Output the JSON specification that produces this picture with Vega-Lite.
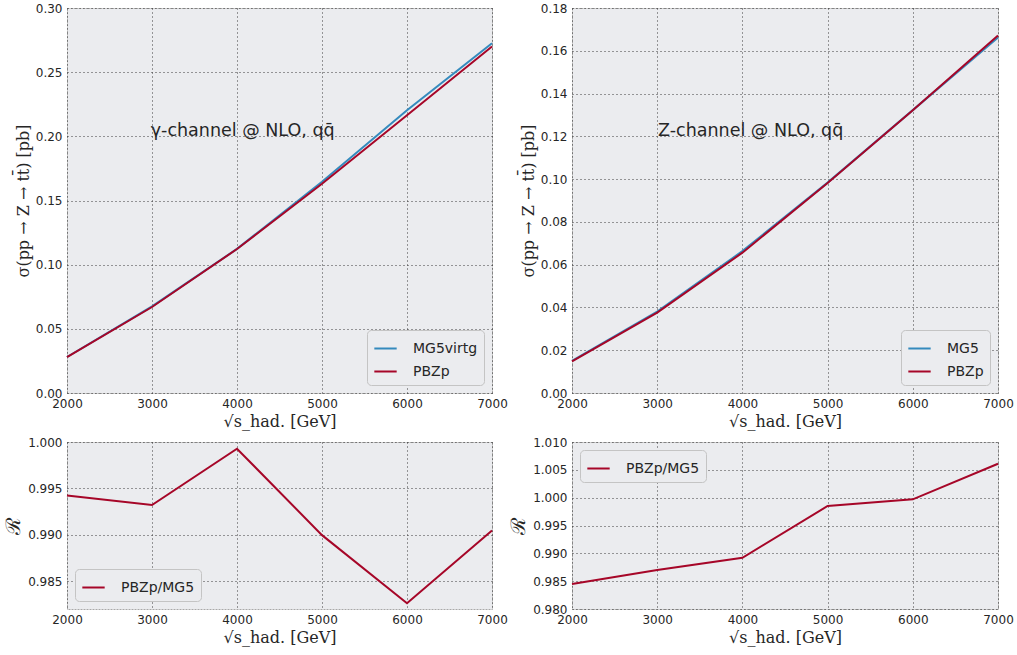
{
  "$schema": "https://vega.github.io/schema/vega-lite/v6.json",
  "padding": {"left": 3, "top": 1, "right": 5, "bottom": 5},
  "background": "white",
  "config": {
    "font": "DejaVu Sans",
    "view": {"fill": "#ebecef", "stroke": "#a8a8a8", "strokeDash": [2, 1], "strokeWidth": 1},
    "axis": {
      "grid": true, "gridColor": "#3a3a3a", "gridDash": [1, 3], "gridWidth": 1,
      "domain": false, "ticks": false, "labelPadding": 5,
      "labelFont": "DejaVu Sans", "labelFontSize": 12, "labelColor": "#262626",
      "titleFont": "DejaVu Serif", "titleFontWeight": "normal", "titleFontSize": 16, "titleColor": "#262626", "titlePadding": 4
    },
    "legend": {
      "title": null, "fillColor": "#ebecef", "strokeColor": "#c4c4c4", "cornerRadius": 4,
      "padding": 6, "offset": 8, "symbolType": "stroke", "symbolSize": 500, "symbolStrokeWidth": 2,
      "labelFont": "DejaVu Sans", "labelFontSize": 14, "labelColor": "#262626", "labelOffset": 15, "rowPadding": 3
    }
  },
  "datasets": {
    "gamma": [
      {"E": 2000, "series": "MG5virtg", "sigma": 0.02806},
      {"E": 3000, "series": "MG5virtg", "sigma": 0.06746},
      {"E": 4000, "series": "MG5virtg", "sigma": 0.11229},
      {"E": 5000, "series": "MG5virtg", "sigma": 0.16466},
      {"E": 6000, "series": "MG5virtg", "sigma": 0.22036},
      {"E": 7000, "series": "MG5virtg", "sigma": 0.27259},
      {"E": 2000, "series": "PBZp", "sigma": 0.0279},
      {"E": 3000, "series": "PBZp", "sigma": 0.0670},
      {"E": 4000, "series": "PBZp", "sigma": 0.1122},
      {"E": 5000, "series": "PBZp", "sigma": 0.1630},
      {"E": 6000, "series": "PBZp", "sigma": 0.2165},
      {"E": 7000, "series": "PBZp", "sigma": 0.2700}
    ],
    "zch": [
      {"E": 2000, "series": "MG5", "sigma": 0.01503},
      {"E": 3000, "series": "MG5", "sigma": 0.03809},
      {"E": 4000, "series": "MG5", "sigma": 0.06632},
      {"E": 5000, "series": "MG5", "sigma": 0.09836},
      {"E": 6000, "series": "MG5", "sigma": 0.13225},
      {"E": 7000, "series": "MG5", "sigma": 0.16619},
      {"E": 2000, "series": "PBZp", "sigma": 0.0148},
      {"E": 3000, "series": "PBZp", "sigma": 0.0376},
      {"E": 4000, "series": "PBZp", "sigma": 0.0656},
      {"E": 5000, "series": "PBZp", "sigma": 0.0982},
      {"E": 6000, "series": "PBZp", "sigma": 0.1322},
      {"E": 7000, "series": "PBZp", "sigma": 0.1672}
    ],
    "ratio_gamma": [
      {"E": 2000, "series": "PBZp/MG5", "R": 0.99423},
      {"E": 3000, "series": "PBZp/MG5", "R": 0.9932},
      {"E": 4000, "series": "PBZp/MG5", "R": 0.99928},
      {"E": 5000, "series": "PBZp/MG5", "R": 0.98996},
      {"E": 6000, "series": "PBZp/MG5", "R": 0.98262},
      {"E": 7000, "series": "PBZp/MG5", "R": 0.99047}
    ],
    "ratio_z": [
      {"E": 2000, "series": "PBZp/MG5", "R": 0.9845},
      {"E": 3000, "series": "PBZp/MG5", "R": 0.9870},
      {"E": 4000, "series": "PBZp/MG5", "R": 0.9892},
      {"E": 5000, "series": "PBZp/MG5", "R": 0.9985},
      {"E": 6000, "series": "PBZp/MG5", "R": 0.9997},
      {"E": 7000, "series": "PBZp/MG5", "R": 1.0061}
    ],
    "notes": [
      {"panel": "gamma", "E": 2985, "sigma": 0.204, "label": "γ-channel @ NLO, qq̄"},
      {"panel": "z", "E": 3010, "sigma": 0.1225, "label": "Z-channel @ NLO, qq̄"}
    ]
  },
  "columns": 2,
  "spacing": {"row": 49, "column": 80},
  "bounds": "flush",
  "resolve": {
    "scale": {"color": "independent", "x": "independent", "y": "independent"},
    "legend": {"color": "independent"}
  },
  "concat": [
    {
      "width": 425, "height": 385,
      "layer": [
        {
          "data": {"name": "gamma"},
          "mark": {"type": "line", "strokeWidth": 2},
          "encoding": {
            "x": {"field": "E", "type": "quantitative", "scale": {"domain": [2000, 7000], "nice": false, "zero": false},
                  "axis": {"values": [2000, 3000, 4000, 5000, 6000, 7000], "format": "d", "title": "√s_had. [GeV]", "labelFlush": false}},
            "y": {"field": "sigma", "type": "quantitative", "scale": {"domain": [0, 0.3], "nice": false},
                  "axis": {"values": [0, 0.05, 0.1, 0.15, 0.2, 0.25, 0.3], "format": ".2f", "title": "σ(pp → Z → tt̄) [pb]"}},
            "color": {"field": "series", "type": "nominal",
                      "scale": {"domain": ["MG5virtg", "PBZp"], "range": ["#348ABD", "#A60628"]},
                      "legend": {"orient": "bottom-right"}}
          }
        },
        {
          "data": {"name": "notes"},
          "transform": [{"filter": "datum.panel === 'gamma'"}],
          "mark": {"type": "text", "align": "left", "baseline": "middle", "fontSize": 17.5, "font": "DejaVu Sans", "color": "#262626"},
          "encoding": {
            "x": {"field": "E", "type": "quantitative"},
            "y": {"field": "sigma", "type": "quantitative"},
            "text": {"field": "label"}
          }
        }
      ]
    },
    {
      "width": 426, "height": 385,
      "layer": [
        {
          "data": {"name": "zch"},
          "mark": {"type": "line", "strokeWidth": 2},
          "encoding": {
            "x": {"field": "E", "type": "quantitative", "scale": {"domain": [2000, 7000], "nice": false, "zero": false},
                  "axis": {"values": [2000, 3000, 4000, 5000, 6000, 7000], "format": "d", "title": "√s_had. [GeV]", "labelFlush": false}},
            "y": {"field": "sigma", "type": "quantitative", "scale": {"domain": [0, 0.18], "nice": false},
                  "axis": {"values": [0, 0.02, 0.04, 0.06, 0.08, 0.1, 0.12, 0.14, 0.16, 0.18], "format": ".2f", "title": "σ(pp → Z → tt̄) [pb]"}},
            "color": {"field": "series", "type": "nominal",
                      "scale": {"domain": ["MG5", "PBZp"], "range": ["#348ABD", "#A60628"]},
                      "legend": {"orient": "bottom-right"}}
          }
        },
        {
          "data": {"name": "notes"},
          "transform": [{"filter": "datum.panel === 'z'"}],
          "mark": {"type": "text", "align": "left", "baseline": "middle", "fontSize": 17.5, "font": "DejaVu Sans", "color": "#262626"},
          "encoding": {
            "x": {"field": "E", "type": "quantitative"},
            "y": {"field": "sigma", "type": "quantitative"},
            "text": {"field": "label"}
          }
        }
      ]
    },
    {
      "width": 425, "height": 167,
      "data": {"name": "ratio_gamma"},
      "mark": {"type": "line", "strokeWidth": 2},
      "encoding": {
        "x": {"field": "E", "type": "quantitative", "scale": {"domain": [2000, 7000], "nice": false, "zero": false},
              "axis": {"values": [2000, 3000, 4000, 5000, 6000, 7000], "format": "d", "title": "√s_had. [GeV]", "labelFlush": false}},
        "y": {"field": "R", "type": "quantitative", "scale": {"domain": [0.982, 1.0], "nice": false, "zero": false},
              "axis": {"values": [0.985, 0.99, 0.995, 1.0], "format": ".3f", "title": "ℛ", "titleFontSize": 20}},
        "color": {"field": "series", "type": "nominal",
                  "scale": {"domain": ["PBZp/MG5"], "range": ["#A60628"]},
                  "legend": {"orient": "bottom-left"}}
      }
    },
    {
      "width": 426, "height": 167,
      "data": {"name": "ratio_z"},
      "mark": {"type": "line", "strokeWidth": 2},
      "encoding": {
        "x": {"field": "E", "type": "quantitative", "scale": {"domain": [2000, 7000], "nice": false, "zero": false},
              "axis": {"values": [2000, 3000, 4000, 5000, 6000, 7000], "format": "d", "title": "√s_had. [GeV]", "labelFlush": false}},
        "y": {"field": "R", "type": "quantitative", "scale": {"domain": [0.98, 1.01], "nice": false, "zero": false},
              "axis": {"values": [0.98, 0.985, 0.99, 0.995, 1.0, 1.005, 1.01], "format": ".3f", "title": "ℛ", "titleFontSize": 20}},
        "color": {"field": "series", "type": "nominal",
                  "scale": {"domain": ["PBZp/MG5"], "range": ["#A60628"]},
                  "legend": {"orient": "top-left"}}
      }
    }
  ]
}
